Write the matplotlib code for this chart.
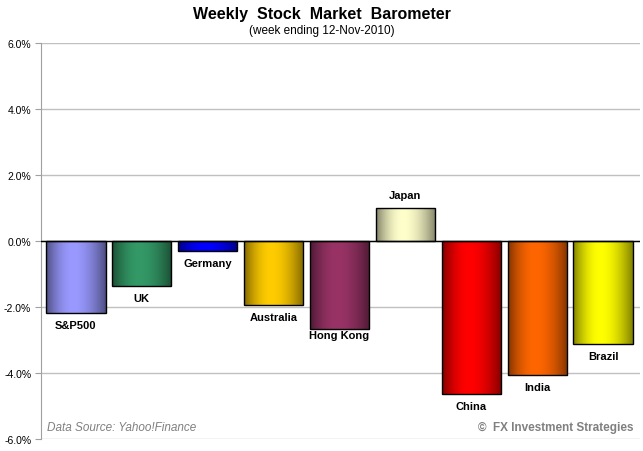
import numpy as np
import matplotlib
matplotlib.use("Agg")
import matplotlib.pyplot as plt
from matplotlib.colors import to_rgb
from matplotlib.ticker import FuncFormatter

plt.rcParams["font.family"] = ["Liberation Sans", "DejaVu Sans"]

markets = ["S&P500", "UK", "Germany", "Australia", "Hong Kong", "Japan", "China", "India", "Brazil"]
weekly_change = [-2.18, -1.36, -0.30, -1.94, -2.67, 1.00, -4.64, -4.06, -3.12]
bar_colors = ["#9999FF", "#339966", "#0000FF", "#FFCC00", "#993366", "#FFFFCC", "#FF0000", "#FF6600", "#FFFF00"]

fig = plt.figure(figsize=(6.43, 4.52), dpi=100)
ax = fig.add_axes([41 / 643, 12 / 452, 599 / 643, 396 / 452])

x = np.arange(len(markets))
width = 0.9
bars = ax.bar(x, weekly_change, width=width, color="none", edgecolor="black", linewidth=1.0, zorder=3)

# horizontal shading: dark edges, bright middle (peak a bit left of centre)
t = np.linspace(0, 1, 200)
peak = 0.45
u = np.where(t < peak, t / peak, (1 - t) / (1 - peak))
shade = 0.5 + 0.5 * np.sin(np.pi / 2 * u) ** 0.9
for bar, col in zip(bars, bar_colors):
    rgb = np.array(to_rgb(col))
    img = (shade[:, None] * rgb[None, :])[None, :, :]
    x0, y0 = bar.get_x(), bar.get_y()
    w, h = bar.get_width(), bar.get_height()
    im = ax.imshow(img, extent=[x0, x0 + w, min(y0, y0 + h), max(y0, y0 + h)],
                   aspect="auto", zorder=2, interpolation="bilinear")
    im.set_clip_path(bar)

label_gap = {"Hong Kong": 6}
for xi, v, name in zip(x, weekly_change, markets):
    gap = label_gap.get(name, 12)
    off = 13 if v > 0 else -gap
    ax.annotate(name, (xi, v), xytext=(0, off), textcoords="offset pixels",
                ha="center", va="center", fontsize=8, fontweight="bold", zorder=4)

ax.set_xlim(-0.53, 8.56)
ax.set_ylim(-6, 6)
ax.set_yticks(np.arange(-6, 6.1, 2))
ax.yaxis.set_major_formatter(FuncFormatter(lambda v, p: f"{v:.1f}%"))
ax.tick_params(axis="y", labelsize=7.5, length=4, color="#A0A0A0", pad=3)
ax.set_xticks([])
ax.grid(axis="y", color="#C0C0C0", linewidth=1.0, zorder=0)
ax.axhline(0, color="black", linewidth=1.0, zorder=4)
for s in ["top", "right", "bottom"]:
    ax.spines[s].set_visible(False)
ax.spines["left"].set_color("#A0A0A0")

fig.text(0.5, 1 - 14 / 452, "Weekly  Stock  Market  Barometer", ha="center", va="center",
         fontsize=11.5, fontweight="bold")
fig.text(0.5, 1 - 31 / 452, "(week ending 12-Nov-2010)", ha="center", va="center", fontsize=8.5)
fig.text(47 / 643, 1 - 428 / 452, "Data Source: Yahoo!Finance", ha="left", va="center",
         fontsize=8.5, style="italic", color="#808080")
fig.text(633 / 643, 1 - 428 / 452, "©  FX Investment Strategies", ha="right", va="center",
         fontsize=8.5, fontweight="bold", color="#808080")

fig.savefig("out.png", dpi=100)
